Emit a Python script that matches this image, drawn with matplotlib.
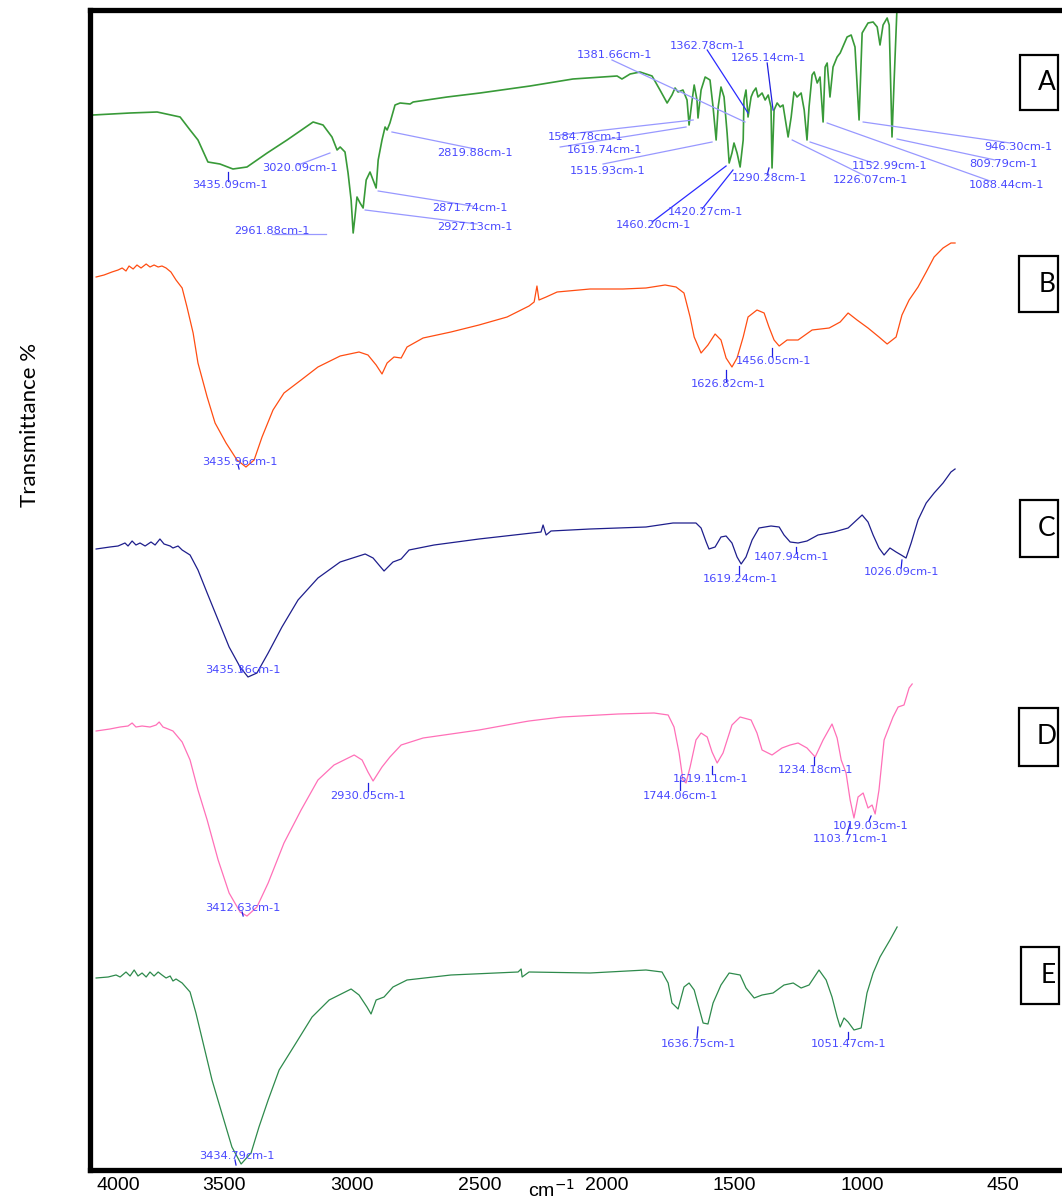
import numpy as np
import matplotlib
matplotlib.use("Agg")
import matplotlib.pyplot as plt
from matplotlib.patches import Rectangle

# ---- spectra (x = wavenumber on the printed axis, y = stacked transmittance, arb.) ----
a_wn = [4013, 3868, 3762, 3672, 3633, 3602, 3563, 3516, 3465, 3410, 3331, 3253, 3151, 3112,
        3077, 3057, 3045, 3026, 3014, 3002, 2994, 2987, 2979, 2967, 2955, 2943, 2928, 2916,
        2904, 2896, 2881, 2869, 2861, 2850, 2830, 2810, 2771, 2759, 2626, 2497, 2301, 2133,
        1960, 1941, 1909, 1870, 1823, 1792, 1764, 1745, 1733, 1721, 1702, 1686, 1678, 1666,
        1658, 1647, 1643, 1631, 1615, 1596, 1584, 1572, 1564, 1553, 1541, 1529, 1521, 1510,
        1502, 1490, 1478, 1466, 1463, 1455, 1447, 1435, 1427, 1416, 1408, 1392, 1380, 1368,
        1357, 1353, 1345, 1333, 1321, 1310, 1290, 1278, 1267, 1255, 1239, 1227, 1216, 1208,
        1196, 1188, 1176, 1165, 1153, 1145, 1137, 1126, 1114, 1098, 1086, 1059, 1043, 1028,
        1012, 1000, 977, 957, 941, 930, 918, 902, 894, 883, 875, 863]
a_t = [105.5, 105.7, 105.8, 105.3, 104.0, 103.0, 100.8, 100.6, 100.1, 100.3, 101.7, 103.0, 104.8, 104.5,
       103.3, 102.0, 102.3, 101.8, 99.7, 97.0, 93.7, 95.3, 97.3, 96.7, 96.2, 99.0, 99.8, 99.0,
       98.2, 101.0, 103.0, 104.3, 104.0, 104.7, 106.5, 106.7, 106.6, 106.8, 107.3, 107.7, 108.4, 109.1,
       109.4, 109.1, 109.6, 109.8, 109.4, 108.0, 106.7, 107.5, 108.2, 107.8, 108.0, 107.0, 104.5, 107.0,
       108.5, 107.0, 105.2, 108.0, 109.3, 109.0, 106.3, 103.0, 106.3, 108.3, 107.3, 103.7, 100.7, 101.7,
       102.7, 101.7, 100.3, 103.0, 107.0, 108.0, 105.3, 107.3, 107.8, 108.2, 107.3, 107.7, 107.0, 107.5,
       106.3, 100.2, 106.0, 106.7, 106.3, 106.5, 103.3, 105.3, 107.8, 107.3, 107.7, 106.0, 103.0, 106.3,
       109.5, 109.8, 108.7, 109.3, 104.8, 110.3, 110.7, 107.3, 110.3, 111.3, 111.7, 113.3, 113.5, 112.3,
       105.0, 113.7, 114.7, 114.8, 114.3, 112.5, 114.5, 115.2, 114.5, 103.3, 108.7, 116.5]

b_wn = [4001, 3970, 3939, 3915, 3899, 3884, 3872, 3856, 3841, 3825, 3805, 3790, 3774, 3758,
        3743, 3727, 3708, 3688, 3664, 3645, 3621, 3602, 3566, 3535, 3492, 3449, 3414, 3382,
        3351, 3308, 3265, 3198, 3132, 3045, 2971, 2936, 2904, 2881, 2861, 2834, 2806, 2783,
        2720, 2611, 2501, 2391, 2305, 2285, 2274, 2266, 2238, 2195, 2066, 1937, 1847, 1772,
        1729, 1698, 1674, 1658, 1631, 1604, 1576, 1553, 1533, 1510, 1490, 1466, 1447, 1412,
        1384, 1365, 1345, 1325, 1294, 1251, 1196, 1129, 1086, 1055, 1020, 977, 934, 902,
        867, 844, 816, 781, 749, 718, 683, 652, 636]
b_t = [89.3, 89.5, 89.8, 90.0, 90.2, 89.9, 90.4, 90.1, 90.5, 90.2, 90.6, 90.3, 90.5, 90.3,
       90.4, 90.2, 89.8, 89.0, 88.2, 86.3, 83.7, 80.7, 77.3, 74.7, 72.7, 71.0, 70.3, 71.0,
       73.3, 76.0, 77.7, 79.0, 80.3, 81.4, 81.8, 81.5, 80.5, 79.6, 80.7, 81.3, 81.2, 82.3,
       83.2, 83.8, 84.5, 85.3, 86.4, 86.8, 88.4, 87.0, 87.3, 87.8, 88.1, 88.1, 88.2, 88.5,
       88.3, 87.7, 85.3, 83.3, 81.7, 82.5, 83.6, 83.0, 81.2, 80.3, 81.2, 83.3, 85.3, 86.0,
       85.7, 84.3, 83.0, 82.4, 83.0, 83.0, 84.0, 84.2, 84.8, 85.7, 85.0, 84.2, 83.3, 82.6,
       83.3, 85.5, 87.0, 88.3, 89.8, 91.3, 92.2, 92.7, 92.7]

c_wn = [4001, 3947, 3915, 3888, 3876, 3860, 3845, 3829, 3809, 3786, 3770, 3751, 3735, 3711,
        3700, 3680, 3664, 3633, 3602, 3566, 3523, 3480, 3437, 3406, 3371, 3327, 3273, 3210,
        3132, 3045, 2947, 2916, 2893, 2873, 2838, 2806, 2775, 2677, 2501, 2328, 2258, 2250,
        2238, 2219, 2066, 1847, 1741, 1651, 1631, 1611, 1600, 1576, 1553, 1533, 1510, 1490,
        1474, 1455, 1431, 1404, 1357, 1325, 1306, 1282, 1251, 1216, 1173, 1110, 1055, 1000,
        977, 957, 934, 914, 891, 867, 847, 828, 808, 781, 749, 718, 683, 652, 636]
c_t = [62.1, 62.3, 62.4, 62.7, 62.4, 62.9, 62.5, 62.7, 62.4, 62.8, 62.5, 63.1, 62.6, 62.4,
       62.2, 62.4, 62.0, 61.5, 60.0, 57.7, 55.0, 52.3, 50.3, 49.3, 49.7, 51.7, 54.3, 57.0,
       59.2, 60.8, 61.6, 61.2, 60.5, 59.9, 60.8, 61.1, 62.0, 62.5, 63.1, 63.6, 63.8, 64.5,
       63.5, 63.9, 64.1, 64.3, 64.7, 64.7, 64.2, 62.8, 62.1, 62.3, 63.3, 63.4, 62.7, 61.3,
       60.6, 61.3, 63.0, 64.2, 64.4, 64.3, 63.5, 62.8, 62.7, 62.9, 63.5, 63.8, 64.2, 65.5,
       64.8, 63.5, 62.2, 61.5, 62.2, 61.8, 61.5, 61.2, 62.7, 65.0, 66.7, 67.7, 68.7, 69.8, 70.1]

d_wn = [4001, 3947, 3907, 3876, 3860, 3845, 3821, 3790, 3766, 3754, 3739, 3719, 3700, 3664,
        3633, 3602, 3566, 3523, 3480, 3437, 3410, 3371, 3327, 3265, 3198, 3132, 3069, 2990,
        2959, 2936, 2916, 2881, 2850, 2806, 2720, 2501, 2328, 2305, 2176, 1956, 1815, 1760,
        1737, 1717, 1702, 1690, 1674, 1651, 1631, 1607, 1588, 1568, 1545, 1510, 1478, 1435,
        1412, 1392, 1353, 1314, 1282, 1251, 1216, 1184, 1153, 1118, 1098, 1082, 1063, 1047,
        1032, 1016, 996, 977, 961, 949, 934, 914, 879, 859, 836, 816, 804]
d_t = [43.9, 44.1, 44.3, 44.4, 44.7, 44.3, 44.4, 44.3, 44.5, 44.8, 44.3, 44.1, 43.9, 42.8,
       41.0, 38.0, 35.0, 31.0, 27.7, 25.8, 25.4, 26.3, 28.7, 32.7, 36.0, 39.0, 40.5, 41.5,
       41.0, 39.8, 38.9, 40.3, 41.3, 42.5, 43.2, 44.0, 44.8, 44.9, 45.3, 45.6, 45.7, 45.5,
       44.3, 41.7, 39.0, 38.7, 40.3, 43.0, 43.7, 43.3, 41.8, 40.7, 41.7, 44.5, 45.3, 45.0,
       43.7, 42.0, 41.5, 42.2, 42.5, 42.7, 42.2, 41.3, 43.0, 44.6, 43.2, 41.0, 39.7, 37.0,
       35.2, 37.3, 37.7, 36.2, 36.5, 35.6, 38.0, 43.0, 45.3, 46.3, 46.5, 48.2, 48.6]

e_wn = [4001, 3954, 3923, 3907, 3884, 3868, 3852, 3837, 3821, 3805, 3790, 3774, 3758, 3743,
        3727, 3711, 3700, 3688, 3664, 3633, 3610, 3578, 3547, 3504, 3469, 3433, 3394, 3363,
        3327, 3284, 3218, 3155, 3088, 3002, 2971, 2940, 2924, 2904, 2873, 2838, 2783, 2611,
        2348, 2336, 2332, 2305, 2066, 1847, 1784, 1760, 1745, 1721, 1698, 1678, 1658, 1639,
        1623, 1604, 1584, 1553, 1521, 1478, 1455, 1423, 1392, 1349, 1306, 1270, 1239, 1208,
        1169, 1141, 1118, 1098, 1086, 1071, 1055, 1032, 1004, 981, 957, 930, 914, 891, 863]
e_t = [19.2, 19.3, 19.5, 19.3, 19.8, 19.4, 20.0, 19.4, 19.7, 19.3, 19.8, 19.4, 19.8, 19.5,
       19.2, 19.4, 18.9, 19.1, 18.7, 17.8, 15.7, 12.3, 9.0, 5.3, 2.3, 0.6, 1.7, 4.3,
       7.0, 10.0, 12.7, 15.3, 17.0, 18.1, 17.5, 16.3, 15.6, 17.0, 17.3, 18.3, 19.0, 19.5,
       19.8, 20.1, 19.3, 19.8, 19.7, 20.0, 19.8, 18.7, 16.7, 16.1, 18.3, 18.7, 18.0, 16.2,
       14.7, 14.6, 16.7, 18.5, 19.7, 19.5, 18.2, 17.2, 17.5, 17.7, 18.5, 18.7, 18.2, 18.5,
       20.0, 19.0, 17.3, 15.3, 14.3, 15.2, 14.8, 14.0, 14.2, 17.7, 19.7, 21.3, 22.0, 23.0, 24.3]

# ---- peak labels: (text, text x, text y, line from x, y, line to x, y) ----
a_peaks = [
    ("3435.09cm-1", 3476, 98.5, 3484, 99.8, 3484, 98.9),
    ("3020.09cm-1", 3202, 100.2, 3210, 100.5, 3085, 101.7),
    ("2819.88cm-1", 2516, 101.7, 2842, 103.8, 2516, 102.1),
    ("2871.74cm-1", 2536, 96.2, 2896, 97.9, 2528, 96.4),
    ("2927.13cm-1", 2516, 94.3, 2947, 96.0, 2509, 94.6),
    ("2961.88cm-1", 3312, 93.9, 3312, 93.6, 3100, 93.6),
    ("1381.66cm-1", 1972, 111.5, 1980, 111.0, 1459, 104.8),
    ("1362.78cm-1", 1607, 112.4, 1607, 112.0, 1447, 105.7),
    ("1265.14cm-1", 1368, 111.2, 1372, 110.7, 1349, 106.0),
    ("1584.78cm-1", 2082, 103.3, 2183, 103.5, 1662, 105.0),
    ("1619.74cm-1", 2011, 102.0, 2183, 102.3, 1690, 104.3),
    ("1515.93cm-1", 1999, 99.9, 2015, 100.6, 1588, 102.8),
    ("1460.20cm-1", 1819, 94.5, 1823, 94.8, 1533, 100.4),
    ("1420.27cm-1", 1615, 95.8, 1627, 96.1, 1506, 100.0),
    ("1290.28cm-1", 1361, 99.2, 1372, 99.5, 1365, 100.2),
    ("1152.99cm-1", 891, 100.4, 1204, 102.8, 957, 100.7),
    ("1226.07cm-1", 969, 99.0, 1274, 103.0, 988, 99.4),
    ("1088.44cm-1", 436, 98.5, 1137, 104.7, 499, 98.9),
    ("809.79cm-1", 448, 100.6, 863, 103.1, 479, 101.0),
    ("946.30cm-1", 389, 102.3, 996, 104.8, 420, 102.7),
]
b_peaks = [
    ("3435.96cm-1", 3437, 70.8, 3445, 70.5, 3441, 70.1),
    ("1626.82cm-1", 1525, 78.6, 1533, 80.0, 1533, 78.9),
    ("1456.05cm-1", 1349, 80.9, 1353, 82.2, 1353, 81.3),
]
c_peaks = [
    ("3435.36cm-1", 3425, 50.0, 3437, 50.3, 3433, 49.8),
    ("1619.24cm-1", 1478, 59.1, 1482, 60.4, 1482, 59.5),
    ("1407.94cm-1", 1278, 61.3, 1259, 62.3, 1259, 61.7),
    ("1026.09cm-1", 844, 59.8, 844, 61.0, 847, 60.2),
]
d_peaks = [
    ("3412.63cm-1", 3425, 26.2, 3429, 25.8, 3425, 25.4),
    ("2930.05cm-1", 2936, 37.4, 2936, 38.7, 2936, 37.9),
    ("1744.06cm-1", 1713, 37.4, 1713, 39.0, 1713, 38.0),
    ("1619.11cm-1", 1592, 39.1, 1588, 40.4, 1588, 39.6),
    ("1234.18cm-1", 1181, 40.0, 1188, 41.3, 1188, 40.5),
    ("1019.03cm-1", 965, 34.4, 965, 35.4, 973, 34.9),
    ("1103.71cm-1", 1047, 33.1, 1047, 34.7, 1059, 33.6),
]
e_peaks = [
    ("3434.79cm-1", 3449, 1.4, 3457, 1.0, 3453, 0.5),
    ("1636.75cm-1", 1643, 12.6, 1643, 14.3, 1647, 13.2),
    ("1051.47cm-1", 1055, 12.6, 1055, 13.8, 1055, 13.1),
]
dark_leaders = {"1362.78cm-1", "1265.14cm-1", "1460.20cm-1", "1420.27cm-1"}

tick_pos = [4000, 3500, 3000, 2500, 2000, 1500, 1000, 450]
tick_lab = ["4000", "3500", "3000", "2500", "2000", "1500", "1000", "450"]

panel_letters = ["A", "B", "C", "D", "E"]
# box corners in figure pixels (left, top, right, bottom)
panel_boxes = [(1020, 55, 1058, 110), (1019, 256, 1058, 312), (1020, 500, 1058, 557),
               (1019, 708, 1058, 766), (1021, 947, 1059, 1004)]

W, H = 1062, 1199
fig = plt.figure(figsize=(W / 100, H / 100), dpi=100)
ax = fig.add_axes([90 / W, 1 - 1170 / H, 1 - 90 / W, 1160 / H])

series = [(a_wn, a_t, "#389a38", 1.2), (b_wn, b_t, "#ff4d12", 0.9), (c_wn, c_t, "#1e1e8c", 0.9),
          (d_wn, d_t, "#ff70b8", 0.9), (e_wn, e_t, "#2e8a4c", 0.9)]
for xs, ys, col, lw in series:
    ax.plot(xs, ys, color=col, lw=lw)

for peaks in [a_peaks, b_peaks, c_peaks, d_peaks, e_peaks]:
    for lab, tx, ty, x0, y0, x1, y1 in peaks:
        long_line = abs(x1 - x0) > 40
        if long_line:
            lc = "#2b2bff" if lab in dark_leaders else "#9898ff"
        else:
            lc = "#2020e0"
        ax.plot([x0, x1], [y0, y1], color=lc, lw=0.9)
        ax.text(tx, ty, lab, color="#4848ff", fontsize=8.2, ha="center", va="center",
                family="DejaVu Sans")

ax.set_xlim(4025, 217)
ax.set_ylim(0, 116)
ax.set_xticks(tick_pos)
ax.set_xticklabels(tick_lab, fontsize=14, family="Liberation Sans")
ax.get_xticklabels()[0].set_horizontalalignment("left")
ax.tick_params(axis="x", length=0, pad=5)
ax.set_yticks([])
ax.spines["right"].set_visible(False)
for s in ["left", "top", "bottom"]:
    ax.spines[s].set_linewidth(3.8)
ax.set_xlabel("cm$^{-1}$", fontsize=14, family="Liberation Sans", va="center")
ax.xaxis.set_label_coords((551 - 90) / 972, -0.0175)

fig.text(30 / W, 1 - 425 / H, "Transmittance %", rotation=90, fontsize=16,
         family="Lato", ha="center", va="center")

for letter, (l, t, r, b) in zip(panel_letters, panel_boxes):
    fig.patches.append(Rectangle((l / W, 1 - b / H), (r - l) / W, (b - t) / H,
                                 transform=fig.transFigure, fill=False, lw=1.6,
                                 edgecolor="black"))
    fig.text((r - 11) / W, 1 - (t + b) / 2 / H, letter, fontsize=19, family="Lato",
             ha="center", va="center")

fig.savefig("out.png", dpi=100)
